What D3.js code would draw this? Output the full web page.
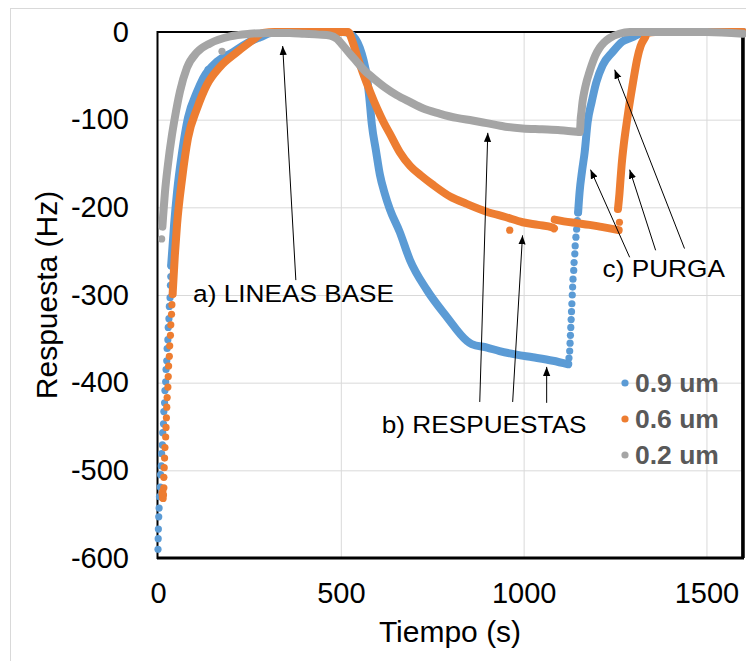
<!DOCTYPE html>
<html>
<head>
<meta charset="utf-8">
<script src="https://cdn.jsdelivr.net/npm/d3@7"></script>
<style>
	body { margin: 0; background: #fff; }
	svg { display: block; font-family: "Liberation Sans", Arial, sans-serif; }
	.tick line { stroke: #d9d9d9; }
</style>
</head>
<body>
<svg id="chart" width="746" height="661"></svg>
<script>
/*
	Data: [tiempo (s), respuesta (Hz)]
	Steep parts show separate dots, flat parts show a solid band of dots (drawn as a thick trace)
*/
const xTicks = [0, 500, 1000, 1500]
const yTicks = [0, -100, -200, -300, -400, -500, -600]
const seriesNames = ['0.9 um', '0.6 um', '0.2 um']
const seriesColors = ['#5b9bd5', '#ed7d31', '#a5a5a5']

// 0.9 um
const dots09 = [[0,-590],[0.5,-578],[1,-567],[2,-553],[3,-543],[4,-530],[6,-519],[7,-505],[9,-495],[10,-481],[12,-471],[13,-457],[15,-447],[16,-433],[18,-423],[19,-409],[21,-399],[22,-385],[24,-375],[25,-361],[27,-351],[28,-337],[30,-327],[31,-313],[33,-303],[34,-289],[35,-279],[36,-267],[137,-43],
	[1124,-372],[1126,-364],[1127,-355],[1128,-346],[1129,-337],[1130,-328],[1131,-319],[1132,-310],[1133,-300],[1134,-291],[1135,-282],[1137,-272],[1138,-263],[1140,-253],[1141,-244],[1143,-234],[1145,-225],[1147,-215],[1149,-206]]
const trace09 = [
	[[36,-266],[44,-220],[52,-183],[66,-137],[82,-98],[107,-68],[123,-53],[161,-34],[205,-23],[251,-11],[279,-6],[310,-1],[340,0],[420,0],[505,0],[525,-2],[540,-8],[552,-18],[562,-32],[571,-50],[578,-75],[585,-106],[596,-135],[607,-163],[620,-184],[634,-202],[661,-228],[689,-260],[735,-294],[790,-325],[844,-352],[858,-356],[900,-360],[934,-364],[980,-368],[1025,-371],[1080,-375],[1122,-379]],
	[[1149,-206],[1153,-183],[1160,-158],[1167,-137],[1175,-103],[1186,-80],[1199,-57],[1216,-38],[1243,-23],[1270,-11],[1298,-6],[1317,-2],[1345,0],[1600,0]]
]

// 0.6 um
const dots06 = [[11,-527],[12,-531],[13,-524],[14,-532],[15,-528],[16,-520],[16,-508],[17,-497],[18,-486],[19,-474],[21,-462],[22,-451],[23,-440],[24,-428],[25,-417],[27,-405],[28,-393],[29,-381],[31,-370],[32,-358],[34,-346],[35,-334],[37,-322],[38,-311],[40,-299],
	[962,-226],[1262,-217]]
const trace06 = [
	[[40,-299],[46,-255],[52,-220],[66,-167],[82,-121],[107,-87],[134,-60],[169,-40],[216,-23],[260,-9],[287,-1],[320,0],[420,0],[520,0],[533,-12],[545,-28],[560,-46],[580,-68],[600,-88],[617,-103],[634,-116],[661,-137],[690,-153],[720,-164],[751,-174],[800,-188],[844,-196],[899,-205],[950,-211],[997,-217],[1040,-220],[1079,-223],[1083,-224]],
	[[1085,-214],[1110,-216],[1145,-218],[1180,-220],[1208,-222],[1235,-224],[1260,-226]],
	[[1258,-202],[1262,-185],[1265,-168],[1268,-152],[1274,-128],[1281,-106],[1288,-86],[1295,-68],[1303,-48],[1311,-30],[1320,-16],[1331,-7],[1339,-1],[1360,0],[1600,0]]
]

// 0.2 um
const dots02 = [[10,-236],[175,-22]]
const trace02 = [
	[[12,-222],[14,-210],[19,-183],[27,-152],[38,-118],[46,-98],[60,-68],[79,-41],[107,-23],[142,-13],[197,-5],[251,-2],[300,-1],[360,-1],[400,-2],[440,-3],[470,-4],[490,-8],[505,-15],[525,-25],[544,-34],[565,-44],[587,-52],[620,-63],[653,-72],[690,-80],[724,-87],[770,-93],[817,-98],[860,-101],[899,-104],[950,-108],[997,-110],[1050,-111],[1100,-112],[1153,-114]],
	[[1153,-114],[1155,-108],[1156,-100],[1158,-92],[1161,-80],[1166,-68],[1172,-57],[1179,-47],[1186,-38],[1196,-27],[1208,-18],[1220,-12],[1235,-7],[1262,-2],[1290,0],[1500,0],[1600,-2]]
]

// Annotations: text anchor point and arrows [tail, tip], in data units
const notes = [
	{text: 'a) LINEAS BASE', at: [96,-308], arrows: [[[377,-283],[341,-16]]]},
	{text: 'b) RESPUESTAS', at: [612,-457], arrows: [[[880,-422],[902,-115]], [[970,-422],[997,-232]], [[1063,-423],[1063,-382]]]},
	{text: 'c) PURGA', at: [1216,-280], arrows: [[[1290,-257],[1183,-157]], [[1361,-249],[1290,-157]], [[1440,-247],[1249,-43]]]}
]

/*
	Layout
*/
const svg = d3.select('#chart')
const [plotLeft, plotTop, plotRight, plotBottom] = [158, 32, 743, 558]

const x = d3.scaleLinear().domain([0, 1600]).range([plotLeft, plotRight])
const y = d3.scaleLinear().domain([-600, 0]).range([plotBottom, plotTop])
const plain = d => String(d) // hyphen minus, no thousands comma

// chart frame
svg.append('rect')
	.attr('x', 10.5).attr('y', 8.5).attr('width', 800).attr('height', 700)
	.attr('fill', 'none').attr('stroke', '#d9d9d9')

// gridlines
svg.append('g')
	.attr('transform', `translate(0,${plotBottom})`)
	.call(d3.axisBottom(x).tickValues(xTicks.slice(1)).tickSize(-(plotBottom - plotTop)).tickFormat(''))
	.call(g => g.select('.domain').remove())
svg.append('g')
	.attr('transform', `translate(${plotLeft},0)`)
	.call(d3.axisLeft(y).tickValues(yTicks.slice(1, -1)).tickSize(-(plotRight - plotLeft)).tickFormat(''))
	.call(g => g.select('.domain').remove())

// plot border
svg.append('rect')
	.attr('x', plotLeft - 0.5).attr('y', plotTop).attr('width', plotRight - plotLeft).attr('height', plotBottom - plotTop)
	.attr('fill', 'none').attr('stroke', '#000').attr('stroke-width', 2)
svg.append('line').attr('x1', plotLeft - 1).attr('x2', plotRight + 1).attr('y1', plotBottom).attr('y2', plotBottom)
	.attr('stroke', '#000').attr('stroke-width', 3)
svg.append('line').attr('x1', plotRight).attr('x2', plotRight).attr('y1', plotTop).attr('y2', plotBottom)
	.attr('stroke', '#000').attr('stroke-width', 3.5)

// tick labels
const xAxis = svg.append('g')
	.attr('transform', `translate(0,${plotBottom})`)
	.call(d3.axisBottom(x).tickValues(xTicks).tickFormat(plain).tickSize(0).tickPadding(24))
const yAxis = svg.append('g')
	.attr('transform', `translate(${plotLeft},0)`)
	.call(d3.axisLeft(y).tickValues(yTicks).tickFormat(plain).tickSize(0).tickPadding(29))
for (const g of [xAxis, yAxis]) {
	g.select('.domain').remove()
	g.selectAll('text').attr('font-size', 29).attr('font-family', '"Liberation Sans", Arial, sans-serif').attr('fill', '#000')
}

// axis titles
svg.append('text')
	.attr('transform', 'translate(57,295) rotate(-90)')
	.attr('text-anchor', 'middle').attr('font-size', 30)
	.text('Respuesta (Hz)')
svg.append('text')
	.attr('x', 450).attr('y', 642)
	.attr('text-anchor', 'middle').attr('font-size', 30)
	.text('Tiempo (s)')

/*
	Series: thick trace for the dense dot bands, circles for separate dots
	drawn in legend order so 0.2 um ends on top
*/
const line = d3.line().x(d => x(d[0])).y(d => y(d[1])).curve(d3.curveMonotoneX)
const series = [
	{dots: dots09, trace: trace09},
	{dots: dots06, trace: trace06},
	{dots: dots02, trace: trace02}
]
series.forEach((s, i) => {
	const g = svg.append('g')
	g.selectAll('path').data(s.trace).enter().append('path')
		.attr('d', line)
		.attr('fill', 'none')
		.attr('stroke', seriesColors[i])
		.attr('stroke-width', 8)
		.attr('stroke-linecap', 'round')
		.attr('stroke-linejoin', 'round')
	g.selectAll('circle').data(s.dots).enter().append('circle')
		.attr('cx', d => x(d[0]))
		.attr('cy', d => y(d[1]))
		.attr('r', 3.6)
		.attr('fill', seriesColors[i])
})

/*
	Annotations
*/
svg.append('defs').append('marker')
	.attr('id', 'head')
	.attr('viewBox', '0 0 10 10')
	.attr('refX', 10).attr('refY', 5)
	.attr('markerWidth', 9).attr('markerHeight', 9)
	.attr('markerUnits', 'userSpaceOnUse')
	.attr('orient', 'auto')
	.append('path').attr('d', 'M0,1L10,5L0,9Z').attr('fill', '#000')

const noteGroup = svg.append('g')
notes.forEach(n => {
	n.arrows.forEach(([from, to]) => {
		noteGroup.append('line')
			.attr('x1', x(from[0])).attr('y1', y(from[1]))
			.attr('x2', x(to[0])).attr('y2', y(to[1]))
			.attr('stroke', '#000').attr('stroke-width', 1)
			.attr('marker-end', 'url(#head)')
	})
	noteGroup.append('text')
		.attr('transform', `translate(${x(n.at[0])},${y(n.at[1])}) scale(1.07,1)`)
		.attr('font-size', 24.5)
		.text(n.text)
})

/*
	Legend
*/
const legend = svg.append('g').selectAll('g').data(seriesNames).enter().append('g')
	.attr('transform', (d, i) => `translate(625,${383 + i * 36})`)
legend.append('circle').attr('r', 3.6).attr('fill', (d, i) => seriesColors[i])
legend.append('text')
	.attr('transform', 'translate(10,0) scale(1.06,1)')
	.attr('dy', '0.36em')
	.attr('font-size', 25).attr('font-weight', 'bold').attr('fill', '#595959')
	.text(d => d)
</script>
</body>
</html>
